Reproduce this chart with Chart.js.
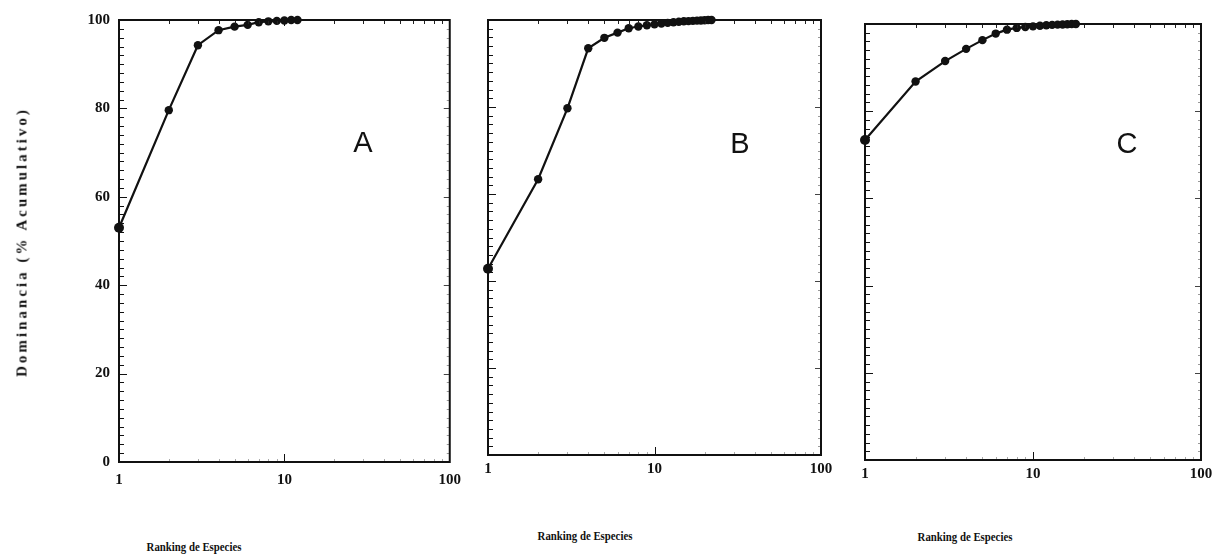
<!DOCTYPE html>
<html>
<head>
<meta charset="utf-8">
<script src="https://cdn.jsdelivr.net/npm/chart.js@4/dist/chart.umd.min.js"></script>
<style>
  body{ margin:0; background:#fff; }
  #wrap{ position:relative; width:1230px; height:560px; overflow:hidden; }
  canvas{ position:absolute; top:0; }
  .lbl{ position:absolute; font-family:"Liberation Serif","DejaVu Serif",serif; font-weight:bold; color:#111; white-space:nowrap; }
  .xt{ font-size:12px; transform:translateX(-50%) scaleX(0.9); }
  .yt{ font-size:15px; letter-spacing:3px; left:22px; top:242px; transform:translate(-50%,-50%) rotate(-90deg); }
  .tag{ position:absolute; font-family:"Liberation Sans","DejaVu Sans",sans-serif; font-size:29px; color:#111; transform:translate(-50%,-50%); }
</style>
</head>
<body>
<div id="wrap">
  <canvas id="cA" width="470" height="500" style="left:0;width:470px;height:500px"></canvas>
  <canvas id="cB" width="370" height="500" style="left:470px;width:370px;height:500px"></canvas>
  <canvas id="cC" width="390" height="500" style="left:840px;width:390px;height:500px"></canvas>

  <div class="lbl yt">Dominancia (% Acumulativo)</div>
  <div class="lbl xt" style="left:194px;top:540px">Ranking de Especies</div>
  <div class="lbl xt" style="left:585px;top:529px">Ranking de Especies</div>
  <div class="lbl xt" style="left:965px;top:530px">Ranking de Especies</div>
  <div class="tag" style="left:363px;top:142px">A</div>
  <div class="tag" style="left:740px;top:143px">B</div>
  <div class="tag" style="left:1127px;top:143px">C</div>
</div>
<script>
// ---------------------------
// Data
// ---------------------------
const rankA = [1, 2, 3, 4, 5, 6, 7, 8, 9, 10, 11, 12];
const domA  = [53, 79.6, 94.3, 97.7, 98.5, 98.9, 99.5, 99.7, 99.8, 99.9, 100, 100];

const rankB = [1, 2, 3, 4, 5, 6, 7, 8, 9, 10, 11, 12, 13, 14, 15, 16, 17, 18, 19, 20, 21, 22];
const domB  = [42.8, 63.4, 79.7, 93.5, 95.9, 97.1, 98.1, 98.5, 98.8, 99.0, 99.2, 99.35,
               99.5, 99.6, 99.7, 99.75, 99.8, 99.85, 99.9, 99.95, 100, 100];

const rankC = [1, 2, 3, 4, 5, 6, 7, 8, 9, 10, 11, 12, 13, 14, 15, 16, 17, 18];
const domC  = [73.4, 86.8, 91.5, 94.3, 96.3, 97.8, 98.7, 99.1, 99.3, 99.45, 99.6, 99.7,
               99.8, 99.85, 99.9, 99.95, 100, 100];

const xTickValues = [1, 10, 100];

// ---------------------------
// Frame + inward ticks
// ---------------------------
const frameTicks = {
  id: "frameTicks",
  afterDraw(chart){
    const {ctx, chartArea:a, scales:{x, y}} = chart;
    ctx.save();
    ctx.lineWidth = 1;

    // left / right minor ticks every 2 units
    for(let v = 0; v <= 100; v += 2){
      const py = Math.round(y.getPixelForValue(v)) + 0.5;
      const major = v % 20 === 0;
      ctx.strokeStyle = "#111";
      ctx.beginPath();
      ctx.moveTo(a.left, py); ctx.lineTo(a.left + (major ? 8 : 5), py);
      ctx.stroke();
      ctx.strokeStyle = major ? "#444" : "#999";
      ctx.beginPath();
      ctx.moveTo(a.right, py); ctx.lineTo(a.right - (major ? 6 : 3), py);
      ctx.stroke();
    }

    // top / bottom log ticks
    for(const dec of [1, 10]){
      for(let m = 2; m <= 9; m++){
        const px = Math.round(x.getPixelForValue(dec*m)) + 0.5;
        ctx.strokeStyle = "#222";
        ctx.beginPath();
        ctx.moveTo(px, a.top); ctx.lineTo(px, a.top + 4);
        ctx.stroke();
        ctx.strokeStyle = "#aaa";
        ctx.beginPath();
        ctx.moveTo(px, a.bottom); ctx.lineTo(px, a.bottom - 3);
        ctx.stroke();
      }
    }
    const p10 = Math.round(x.getPixelForValue(10)) + 0.5;
    ctx.strokeStyle = "#111";
    ctx.beginPath();
    ctx.moveTo(p10, a.bottom); ctx.lineTo(p10, a.bottom - 8);
    ctx.moveTo(p10, a.top); ctx.lineTo(p10, a.top + 6);
    ctx.stroke();

    // box
    ctx.lineWidth = 2;
    ctx.strokeStyle = "#111";
    ctx.strokeRect(a.left, a.top, a.right - a.left, a.bottom - a.top);
    ctx.restore();
  }
};

// ---------------------------
// Panel builder
// ---------------------------
function makePanel(id, ranks, values, box){
  const pts = ranks.map((r, i) => ({x: r, y: values[i]}));
  const radius = values.map((_, i) => i === 0 ? 5 : 4.2);

  return new Chart(document.getElementById(id), {
    type: "line",
    data: {
      datasets: [{
        data: pts,
        borderColor: "#111",
        backgroundColor: "#111",
        borderWidth: 2.2,
        pointRadius: radius,
        pointBorderWidth: 0,
        tension: 0,
        clip: false
      }]
    },
    options: {
      responsive: false,
      animation: false,
      events: [],
      layout: { padding: { left: 0, right: box.right, top: box.top, bottom: 0 } },
      plugins: { legend: { display: false }, tooltip: { enabled: false } },
      scales: {
        x: {
          type: "logarithmic",
          min: 1, max: 100,
          afterBuildTicks: s => { s.ticks = xTickValues.map(v => ({value: v})); },
          afterFit: s => { s.height = box.xh; },
          grid: { display: false, drawTicks: false },
          border: { display: false },
          ticks: {
            autoSkip: false,
            maxRotation: 0,
            padding: box.xpad,
            color: "#111",
            font: { family: "'Liberation Serif', 'DejaVu Serif', serif", weight: "bold", size: 15 },
            callback: v => String(v)
          }
        },
        y: {
          min: 0, max: 100,
          afterFit: s => { s.width = box.yw; },
          grid: { display: false, drawTicks: false },
          border: { display: false },
          ticks: {
            display: box.showY,
            stepSize: 20,
            padding: 9,
            color: "#111",
            font: { family: "'Liberation Serif', 'DejaVu Serif', serif", weight: "bold", size: 15 }
          }
        }
      }
    },
    plugins: [frameTicks]
  });
}

makePanel("cA", rankA, domA, { yw: 119, right: 18, top: 20, xh: 38, xpad: 9,  showY: true });
makePanel("cB", rankB, domB, { yw: 18,  right: 19, top: 20, xh: 45, xpad: 5,  showY: false });
makePanel("cC", rankC, domC, { yw: 25,  right: 29, top: 24, xh: 40, xpad: 5,  showY: false });
</script>
</body>
</html>
